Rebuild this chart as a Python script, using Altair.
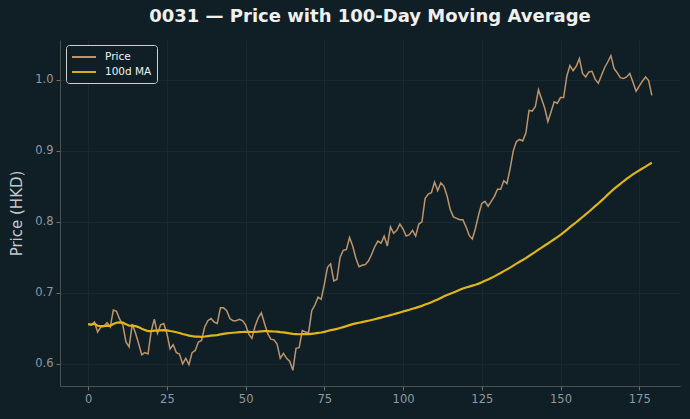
import altair as alt
import pandas as pd

# ---- data ----
price = [
    0.656, 0.655, 0.659, 0.645, 0.652, 0.653, 0.658, 0.652, 0.676, 0.674,
    0.663, 0.655, 0.631, 0.624, 0.656, 0.644, 0.629, 0.613, 0.616, 0.614,
    0.646, 0.663, 0.643, 0.655, 0.657, 0.643, 0.621, 0.627, 0.616, 0.614,
    0.600, 0.608, 0.599, 0.616, 0.619, 0.631, 0.633, 0.652, 0.661, 0.664,
    0.659, 0.657, 0.679, 0.679, 0.675, 0.664, 0.661, 0.661, 0.663, 0.661,
    0.655, 0.642, 0.636, 0.653, 0.665, 0.672, 0.657, 0.643, 0.635, 0.634,
    0.628, 0.608, 0.615, 0.608, 0.604, 0.591, 0.622, 0.623, 0.647, 0.645,
    0.644, 0.675, 0.683, 0.694, 0.691, 0.712, 0.736, 0.741, 0.717, 0.719,
    0.750, 0.760, 0.761, 0.778, 0.766, 0.749, 0.737, 0.739, 0.740, 0.745,
    0.754, 0.765, 0.773, 0.770, 0.780, 0.766, 0.793, 0.784, 0.788, 0.797,
    0.790, 0.780, 0.782, 0.788, 0.780, 0.797, 0.800, 0.833, 0.839, 0.841,
    0.856, 0.844, 0.855, 0.850, 0.836, 0.817, 0.807, 0.805, 0.803, 0.803,
    0.793, 0.781, 0.776, 0.791, 0.810, 0.826, 0.829, 0.822, 0.829, 0.836,
    0.846, 0.846, 0.858, 0.854, 0.875, 0.900, 0.913, 0.916, 0.914, 0.925,
    0.957, 0.956, 0.962, 0.986, 0.973, 0.960, 0.941, 0.955, 0.969, 0.967,
    0.975, 0.975, 1.005, 1.020, 1.013, 1.019, 1.030, 1.009, 1.004, 1.011,
    1.012, 1.001, 0.995, 1.006, 1.017, 1.025, 1.034, 1.016, 1.010, 1.003,
    1.002, 1.004, 1.009, 0.997, 0.984, 0.991, 0.998, 1.004, 0.999, 0.978,
]
days = list(range(len(price)))
series_names = ["Price", "100d MA"]
series_colors = ["#c89b6e", "#e0b41b"]
x_ticks = [0, 25, 50, 75, 100, 125, 150, 175]
y_ticks = [0.6, 0.7, 0.8, 0.9, 1.0]

df = pd.DataFrame({"day": days, "price": price})

BG = "#101f26"
FONT = "DejaVu Sans"

x_enc = alt.X(
    "day:Q",
    scale=alt.Scale(domain=[-8.95, 187.95], nice=False, zero=False),
    axis=alt.Axis(values=x_ticks, title=None, format="d"),
)
color_enc = alt.Color(
    "series:N",
    scale=alt.Scale(domain=series_names, range=series_colors),
    legend=alt.Legend(title=None),
)

base = alt.Chart(df)

price_line = (
    base.transform_calculate(series="'Price'")
    .mark_line(strokeWidth=1.5, opacity=0.95)
    .encode(
        x=x_enc,
        y=alt.Y(
            "price:Q",
            scale=alt.Scale(domain=[0.569, 1.056], nice=False, zero=False),
            axis=alt.Axis(values=y_ticks, format=".1f", title="Price (HKD)"),
        ),
        color=color_enc,
    )
)

ma_line = (
    base.transform_window(
        ma="mean(price)", frame=[-99, 0], sort=[alt.SortField("day")]
    )
    .transform_calculate(series="'100d MA'")
    .mark_line(strokeWidth=2.2)
    .encode(
        x=x_enc,
        y=alt.Y("ma:Q"),
        color=color_enc,
    )
)

chart = (
    alt.layer(price_line, ma_line)
    .properties(
        width=620,
        height=346,
        autosize=alt.AutoSizeParams(type="none"),
        padding={"left": 60, "top": 40, "right": 10, "bottom": 33},
        background=BG,
        title=alt.TitleParams(
            "0031 — Price with 100-Day Moving Average",
            font=FONT,
            fontSize=18,
            fontWeight="bold",
            color="#f0f0f0",
            anchor="middle",
            offset=14,
        ),
    )
    .configure_view(stroke=None, fill=BG)
    .configure_axis(
        labelFont=FONT,
        labelFontSize=11.5,
        labelColor="#8f999e",
        titleFont=FONT,
        titleFontSize=15,
        titleFontWeight="normal",
        titleColor="#c3c9cc",
        domainColor="#4b5053",
        domainWidth=1,
        tickColor="#6b7174",
        tickSize=4,
        labelPadding=3,
        gridColor="#1a2b32",
        gridWidth=0.8,
    )
    .configure_axisY(titlePadding=10)
    .configure_legend(
        orient="none",
        legendX=6,
        legendY=5,
        fillColor=BG,
        strokeColor="#d0d0d0",
        cornerRadius=3,
        padding=5,
        labelFont=FONT,
        labelFontSize=10.5,
        labelColor="#f0f0f0",
        symbolType="M-1,0H3",
        symbolSize=144,
        symbolStrokeWidth=2,
        rowPadding=2,
        labelOffset=20,
    )
)

chart.save("out.html", embed_options={"renderer": "svg", "actions": False})
